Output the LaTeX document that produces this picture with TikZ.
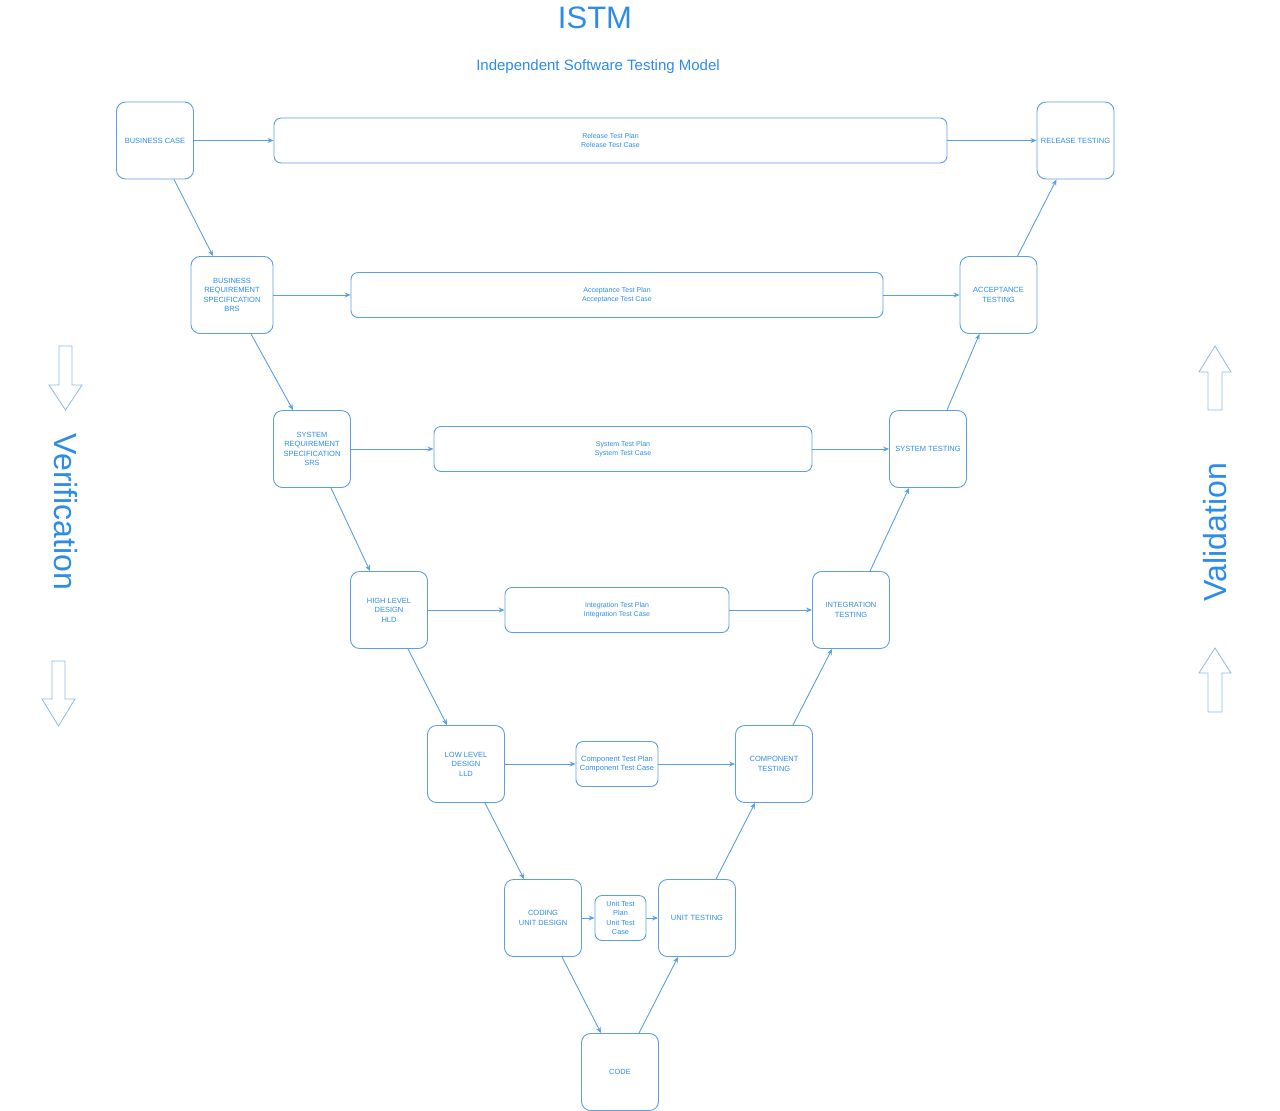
\documentclass[tikz,border=0pt]{standalone}
\usepackage{fontspec}
\setmainfont{Liberation Sans}
\usetikzlibrary{arrows.meta}
\definecolor{istmblue}{RGB}{45,140,232}
\definecolor{lineblue}{RGB}{90,160,226}
\definecolor{hollowblue}{RGB}{140,186,228}
\begin{document}
\begin{tikzpicture}[x=1pt,y=-1pt,
  phase/.style={draw=lineblue,line width=0.9pt,rounded corners=9pt,minimum width=77pt,minimum height=77pt,
    inner sep=1pt,align=center,text=istmblue,font=\fontsize{7.5}{9.6}\selectfont},
  plan/.style={draw=lineblue,line width=0.9pt,rounded corners=7pt,minimum height=45pt,
    inner sep=1pt,align=center,text=istmblue,font=\fontsize{7}{9.6}\selectfont},
  link/.style={draw=lineblue,line width=0.9pt,-{Stealth[length=6pt,width=5pt]}},
  hollow/.style={draw=hollowblue,line width=0.8pt}]
\useasboundingbox (0,0) rectangle (1280,1111);
% titles
\node[text=istmblue,font=\fontsize{31}{31}\selectfont] (title) at (595,18) {ISTM};
\node[text=istmblue,font=\fontsize{15}{15}\selectfont,anchor=base] (subtitle) at (598,70.5) {Independent Software Testing Model};
% left side
\node[phase] (bc) at (155,140.5) {BUSINESS CASE};
\node[phase,minimum width=82pt] (brs) at (232,295) {BUSINESS\\REQUIREMENT\\SPECIFICATION\\BRS};
\node[phase] (srs) at (312,449) {SYSTEM\\REQUIREMENT\\SPECIFICATION\\SRS};
\node[phase] (hld) at (389,610) {HIGH LEVEL\\DESIGN\\HLD};
\node[phase] (lld) at (466,764) {LOW LEVEL\\DESIGN\\LLD};
\node[phase] (cud) at (543,918) {CODING\\UNIT DESIGN};
\node[phase] (code) at (620,1072) {CODE};
% right side
\node[phase] (ut) at (697,918) {UNIT TESTING};
\node[phase] (ct) at (774,764) {COMPONENT\\TESTING};
\node[phase] (it) at (851,610) {INTEGRATION\\TESTING};
\node[phase] (st) at (928,449) {SYSTEM TESTING};
\node[phase] (at) at (998.5,295) {ACCEPTANCE\\TESTING};
\node[phase] (rt) at (1075.5,140.5) {RELEASE TESTING};
% test plans
\node[plan,minimum width=673pt] (rtp) at (610.5,140.5) {Release Test Plan\\Release Test Case};
\node[plan,minimum width=532pt] (atp) at (617,295) {Acceptance Test Plan\\Acceptance Test Case};
\node[plan,minimum width=378pt] (stp) at (623,449) {System Test Plan\\System Test Case};
\node[plan,minimum width=224pt] (itp) at (617,610) {Integration Test Plan\\Integration Test Case};
\node[plan,minimum width=82pt,font=\fontsize{7.5}{9.6}\selectfont] (ctp) at (617,764) {Component Test Plan\\Component Test Case};
\node[plan,minimum width=51pt,font=\fontsize{7.3}{9.4}\selectfont] (utp) at (620.5,918) {Unit Test\\Plan\\Unit Test\\Case};
% horizontal links
\draw[link] (bc) -- (rtp);
\draw[link] (rtp) -- (rt);
\draw[link] (brs) -- (atp);
\draw[link] (atp) -- (at);
\draw[link] (srs) -- (stp);
\draw[link] (stp) -- (st);
\draw[link] (hld) -- (itp);
\draw[link] (itp) -- (it);
\draw[link] (lld) -- (ctp);
\draw[link] (ctp) -- (ct);
\draw[link] (cud) -- (utp);
\draw[link] (utp) -- (ut);
% down the left, up the right
\foreach \a/\b in {bc/brs,brs/srs,srs/hld,hld/lld,lld/cud,cud/code}
  \draw[link] ([xshift=19pt]\a.south) -- ([xshift=-19pt]\b.north);
\foreach \a/\b in {code/ut,ut/ct,ct/it,it/st,st/at,at/rt}
  \draw[link] ([xshift=19pt]\a.north) -- ([xshift=-19pt]\b.south);
% verification
\draw[hollow] (59,346) -- (72,346) -- (72,385) -- (82,385) -- (65.5,410) -- (49,385) -- (59,385) -- cycle;
\node[text=istmblue,font=\fontsize{32}{32}\selectfont,rotate=-90] (verif) at (66,512) {Verification};
\draw[hollow] (52,661) -- (65,661) -- (65,699) -- (75,699) -- (58.5,726) -- (42,699) -- (52,699) -- cycle;
% validation
\draw[hollow] (1208,410) -- (1208,372) -- (1199,372) -- (1215,346) -- (1231,372) -- (1222,372) -- (1222,410) -- cycle;
\node[text=istmblue,font=\fontsize{32}{32}\selectfont,rotate=90] (valid) at (1215,532) {Validation};
\draw[hollow] (1208,712) -- (1208,673) -- (1199,673) -- (1215,648) -- (1231,673) -- (1222,673) -- (1222,712) -- cycle;
\end{tikzpicture}
\end{document}
